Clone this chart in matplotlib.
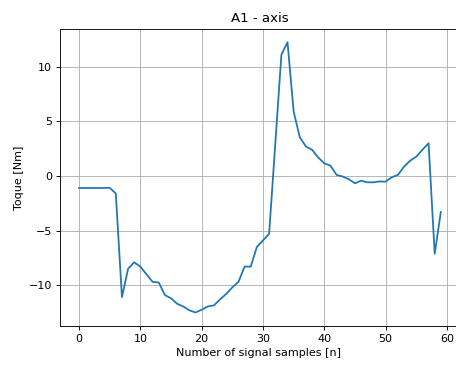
import matplotlib
matplotlib.use("Agg")
import matplotlib.pyplot as plt

samples = list(range(60))
torque = [-1.1, -1.1, -1.1, -1.1, -1.1, -1.08, -1.6, -11.1, -8.5, -7.9,
          -8.3, -9.0, -9.7, -9.75, -10.9, -11.2, -11.7, -11.95, -12.3, -12.5,
          -12.25, -11.95, -11.85, -11.3, -10.8, -10.2, -9.7, -8.3, -8.3, -6.5,
          -5.9, -5.3, 2.9, 11.1, 12.25, 5.9, 3.55, 2.7, 2.4, 1.7,
          1.15, 0.95, 0.1, -0.05, -0.3, -0.67, -0.43, -0.58, -0.58, -0.5,
          -0.52, -0.12, 0.1, 0.85, 1.4, 1.77, 2.4, 3.0, -7.13, -3.3]

DPI = 80
fig = plt.figure(figsize=(456/DPI, 365/DPI), dpi=DPI)
ax = fig.add_axes([60/456, (365-326)/365, (458-60)/456, (326-28.7)/365])
ax.plot(samples, torque, color="#1f77b4", linewidth=1.6)
ax.set_xlim(-3.1, 61.8)
ax.set_title("A1 - axis", x=(288+231)/2/456 * 456/398 - 60/398)
ax.set_xlabel("Number of signal samples [n]")
ax.set_ylabel("Toque [Nm]")
ax.grid(True)
fig.savefig("out.png", dpi=DPI)
